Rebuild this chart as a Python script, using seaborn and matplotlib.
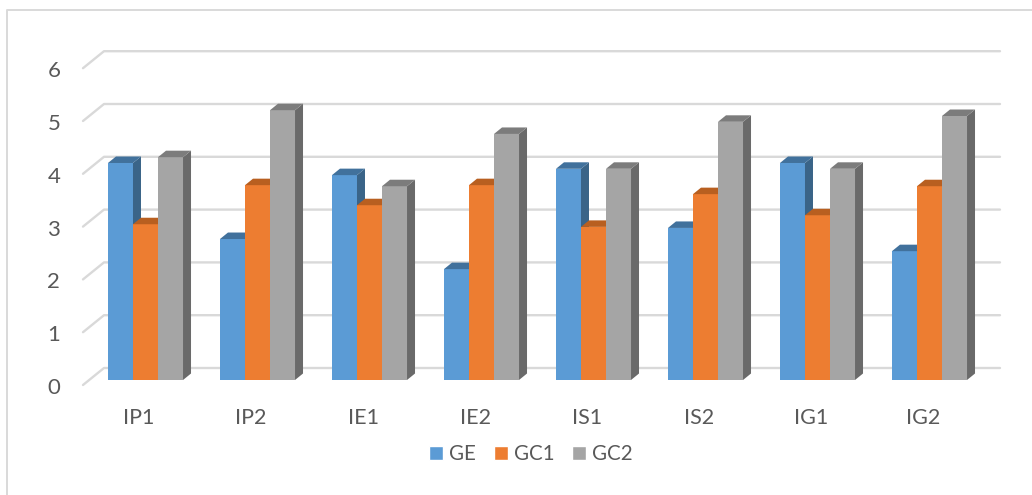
import pandas as pd
import matplotlib
matplotlib.use("Agg")
import matplotlib.pyplot as plt
import matplotlib.transforms as mtrans
from matplotlib.lines import Line2D
from matplotlib.patches import Polygon
import seaborn as sns

# ==================================================
# DATA
# ==================================================
categories = ["IP1", "IP2", "IE1", "IE2", "IS1", "IS2", "IG1", "IG2"]
ge_values = [4.11, 2.67, 3.88, 2.10, 4.00, 2.88, 4.11, 2.44]
gc1_values = [2.95, 3.69, 3.31, 3.69, 2.90, 3.52, 3.12, 3.67]
gc2_values = [4.22, 5.11, 3.67, 4.66, 4.00, 4.89, 4.00, 5.00]
y_ticks = [0, 1, 2, 3, 4, 5, 6]

series_names = ["GE", "GC1", "GC2"]
front_colors = ["#5B9BD5", "#ED7D31", "#A5A5A5"]
top_colors = ["#41719C", "#B85F20", "#7C7C7C"]
side_colors = ["#3A6488", "#AC5A20", "#6A6A6A"]

df = pd.DataFrame({
    "category": categories * 3,
    "series": sum([[s] * len(categories) for s in series_names], []),
    "value": ge_values + gc1_values + gc2_values,
})

# ==================================================
# LAYOUT (pixels of the 1032x495 picture)
# ==================================================
W, H = 1032, 495
PX_CAT = 112.0     # pixels per category
PX_UNIT = 52.8     # pixels per y unit
Y0 = 380           # bar baseline
X_FIRST = 145.5    # centre of first group

sns.set_theme(style="white")
plt.rcParams["font.family"] = ["Lato", "DejaVu Sans"]

fig = plt.figure(figsize=(W / 100, H / 100), dpi=100)
left = X_FIRST - PX_CAT / 2
ax = fig.add_axes([left / W, 1 - Y0 / H, 8 * PX_CAT / W, 6 * PX_UNIT / H])

# frame of the pasted chart: only top and left are in the crop
fig.add_artist(Line2D([6.5 / W, 6.5 / W, 1], [0, 1 - 9.5 / H, 1 - 9.5 / H],
                      transform=fig.transFigure, color="#D9D9D9", lw=1.4))

sns.barplot(data=df, x="category", y="value", hue="series", hue_order=series_names,
            palette=front_colors, width=0.67, gap=0, saturation=1, ax=ax, zorder=20)

ax.set_xlim(-0.5, 7.5)
ax.set_ylim(0, 6)
ax.set_xlabel("")
ax.set_ylabel("")
sns.despine(ax=ax, left=True, bottom=True, top=True, right=True)
ax.patch.set_alpha(0)

dx = 8 / PX_CAT    # bar depth in data units
dy = 6.5 / PX_UNIT

# 3d faces come from the bars themselves
for s, cont in enumerate(ax.containers):
    for bar in cont:
        x0, w, h = bar.get_x(), bar.get_width(), bar.get_height()
        x1 = x0 + w
        z = 20 + s * 3
        bar.set_zorder(z)
        bar.set_linewidth(0)
        ax.add_patch(Polygon([(x1, 0), (x1 + dx, dy), (x1 + dx, h + dy), (x1, h)],
                             fc=side_colors[s], ec="none", zorder=z + 1, clip_on=False))
        ax.add_patch(Polygon([(x0, h), (x0 + dx, h + dy), (x1 + dx, h + dy), (x1, h)],
                             fc=top_colors[s], ec="none", zorder=z + 1, clip_on=False))

# gridlines run along the back wall, with a short leg to the front
x_left = -0.5 + (83 - left) / PX_CAT
x_back = -0.5 + (104 - left) / PX_CAT
x_right = -0.5 + (1000 - left) / PX_CAT
for v in y_ticks:
    back = v + 12 / PX_UNIT
    front = v - 5 / PX_UNIT
    ax.plot([x_left, x_back, x_right], [front, back, back], color="#D9D9D9", lw=1.7,
            solid_capstyle="round", solid_joinstyle="round", clip_on=False, zorder=5)

# tick labels
ax.set_yticks(y_ticks)
ax.tick_params(axis="both", length=0)
ax.tick_params(axis="y", labelsize=16, labelcolor="#595959", pad=21)
ax.tick_params(axis="x", labelsize=15.5, labelcolor="#595959", pad=20)
shift_y = mtrans.ScaledTranslation(0, -6 / 100, fig.dpi_scale_trans)
shift_x = mtrans.ScaledTranslation(-6.5 / 100, 0, fig.dpi_scale_trans)
for lab in ax.get_yticklabels():
    lab.set_transform(lab.get_transform() + shift_y)
for lab in ax.get_xticklabels():
    lab.set_transform(lab.get_transform() + shift_x)

# legend
sns.move_legend(ax, "center", bbox_to_anchor=(531 / W, 1 - 454 / H),
                bbox_transform=fig.transFigure, ncol=3, frameon=False, title=None,
                fontsize=14.8, handlelength=0.68, handleheight=0.68, handletextpad=0.3,
                columnspacing=0.85, labelcolor="#595959")

plt.savefig("out.png", dpi=100)
